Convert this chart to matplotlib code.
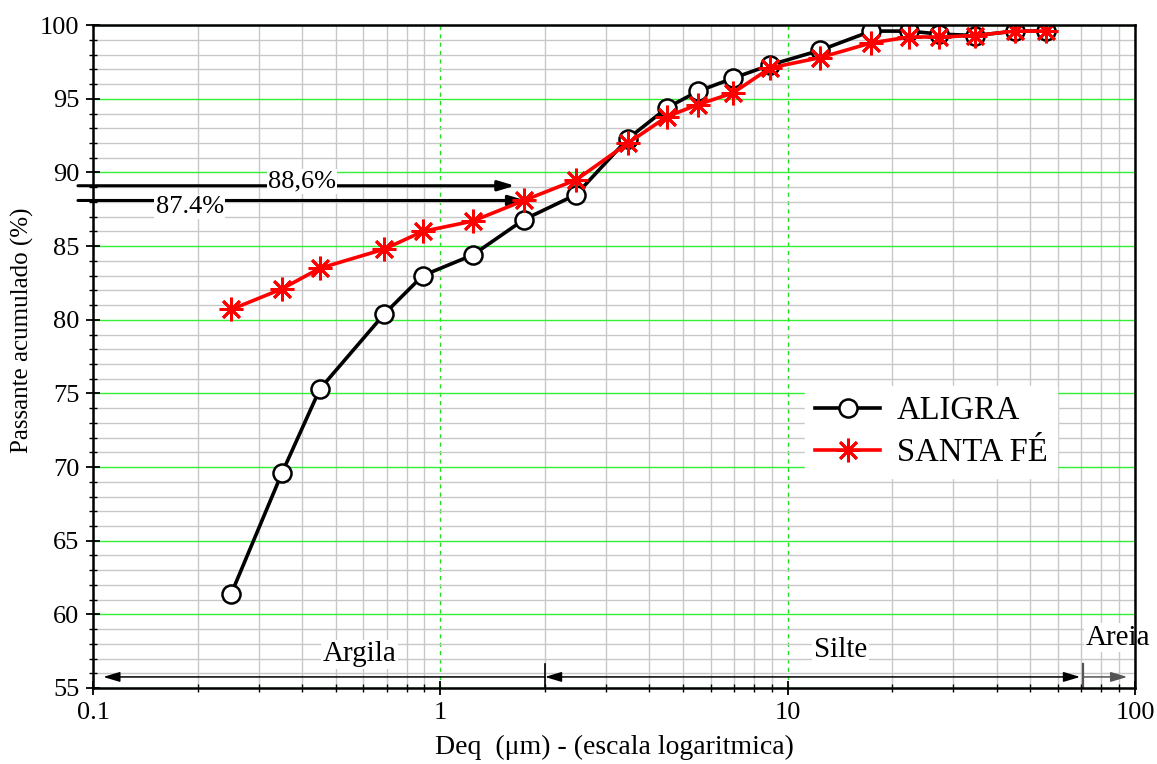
import matplotlib
matplotlib.use("Agg")
import matplotlib.pyplot as plt
from matplotlib.ticker import FixedLocator, NullFormatter, MultipleLocator
import numpy as np

# ---- data ----
diam = [0.25, 0.35, 0.45, 0.69, 0.89, 1.24, 1.74, 2.46, 3.47, 4.5, 5.5, 6.96,
        8.9, 12.4, 17.4, 22.4, 27.3, 34.6, 45.2, 55.3]
aligra = [61.4, 69.6, 75.3, 80.4, 83.0, 84.4, 86.8, 88.5, 92.3, 94.4, 95.5, 96.4,
          97.3, 98.3, 99.6, 99.6, 99.4, 99.3, 99.6, 99.6]
santa_fe = [80.7, 82.1, 83.5, 84.8, 86.0, 86.7, 88.1, 89.5, 92.0, 93.8, 94.6, 95.4,
            97.1, 97.8, 98.8, 99.2, 99.2, 99.3, 99.6, 99.6]
series_names = ["ALIGRA", "SANTA FÉ"]
x_ticks = [0.1, 1, 10, 100]
x_ticklabels = ["0.1", "1", "10", "100"]
y_ticks = [55, 60, 65, 70, 75, 80, 85, 90, 95, 100]
ann_labels = ["88,6%", "87.4%"]
ann_levels = [89.1, 88.1]
ann_targets = [1.64, 1.76]
class_names = ["Argila", "Silte", "Areia"]
class_limits = [2, 71]

plt.rcParams['font.family'] = ['Liberation Serif', 'DejaVu Serif']
plt.rcParams['mathtext.fontset'] = 'stix'

fig = plt.figure(figsize=(11.57, 7.64), dpi=100)
ax = fig.add_axes([0.0804, 0.0995, 0.9006, 0.8675])
ax.set_xscale('log')
ax.set_xlim(0.1, 100)
ax.set_ylim(55, 100)

# grids
minor_x = [m * 10.0 ** e for e in (-1, 0, 1) for m in range(2, 10)]
ax.xaxis.set_major_locator(FixedLocator(x_ticks))
ax.xaxis.set_minor_locator(FixedLocator(minor_x))
ax.xaxis.set_minor_formatter(NullFormatter())
ax.set_xticklabels(x_ticklabels)
ax.yaxis.set_major_locator(FixedLocator(y_ticks))
ax.yaxis.set_minor_locator(MultipleLocator(1))
ax.grid(which='minor', color='#c8c8c8', lw=1.0)
ax.grid(which='major', axis='y', color='#33ee33', lw=1.0)
ax.grid(which='major', axis='x', color='#22dd22', lw=1.0, ls=(0, (3, 3)))
ax.set_axisbelow(True)

ax.tick_params(which='major', direction='inout', length=10, width=1.3, labelsize=19,
               pad=5, top=False, right=False)
ax.tick_params(which='minor', direction='inout', length=6, width=1.0, top=False, right=False)
for s in ax.spines.values():
    s.set_linewidth(1.8)
    s.set_zorder(6)

# series
l1, = ax.plot(diam, aligra, color='black', lw=2.6, marker='o', ms=13,
              mfc='white', mec='black', mew=1.8, zorder=4, label=series_names[0])
l2, = ax.plot(diam, santa_fe, color='red', lw=2.6, marker=(8, 2, 0), ms=17,
              mec='red', mew=2.0, zorder=5, label=series_names[1])

leg = ax.legend(handles=[l1, l2], loc='upper left', bbox_to_anchor=(0.668, 0.48),
                fontsize=23.5, frameon=True, framealpha=1.0, edgecolor='white',
                fancybox=False, handlelength=2.0, handletextpad=0.5,
                borderpad=0.3, labelspacing=0.35)
leg.set_zorder(7)

# annotation arrows
arrow_kw = dict(arrowstyle='-|>,head_length=1.0,head_width=0.3', color='black',
                lw=2.2, shrinkA=0, shrinkB=0)
for lab, lev, tgt, tx, ty in zip(ann_labels, ann_levels, ann_targets,
                                 [0.40, 0.19], [89.4, 87.65]):
    ax.annotate('', xy=(tgt, lev), xytext=(0.0905, lev), xycoords='data',
                arrowprops=arrow_kw, annotation_clip=False, zorder=3)
    ax.text(tx, ty, lab, ha='center', va='center', fontsize=19, zorder=3.5,
            bbox=dict(facecolor='white', edgecolor='none', pad=1.0))

# soil classes
yb = 55.75
thin = dict(arrowstyle='-|>,head_length=1.0,head_width=0.3', color='black', lw=1.1,
            shrinkA=0, shrinkB=0)
ax.annotate('', xy=(0.107, yb), xytext=(class_limits[0], yb), arrowprops=thin, zorder=3)
ax.annotate('', xy=(class_limits[0], yb), xytext=(8, yb), arrowprops=thin, zorder=3)
ax.annotate('', xy=(69.5, yb), xytext=(8, yb), arrowprops=thin, zorder=3)
thin_g = dict(thin, color='#555555')
ax.annotate('', xy=(95, yb), xytext=(class_limits[1], yb), arrowprops=thin_g, zorder=3)
ax.plot([class_limits[0]] * 2, [55, 56.6], color='black', lw=1.2, zorder=3)
ax.plot([class_limits[1]] * 2, [55, 56.6], color='#555555', lw=1.6, zorder=3)
for name, tx, ty in zip(class_names, [0.585, 14.2, 89.3], [57.3, 57.55, 58.4]):
    ax.text(tx, ty, name, ha='center', va='center', fontsize=21, zorder=3.5,
            bbox=dict(facecolor='white', edgecolor='none', pad=1.0))

ax.set_xlabel('Deq  (μm) - (escala logaritmica)', fontsize=20, labelpad=8)
ax.set_ylabel('Passante acumulado (%)', fontsize=18)
ax.yaxis.set_label_coords(-0.057, 0.54)

fig.savefig('out.png', dpi=100)
